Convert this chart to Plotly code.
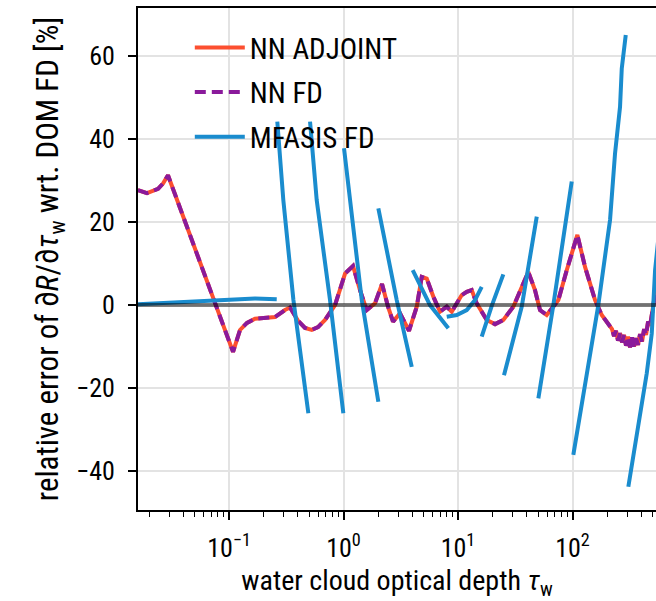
import plotly.graph_objects as go

# ---------------- data ----------------
nn_tau = [0.0160, 0.0192, 0.0240, 0.0265, 0.0293, 0.0456, 0.0725, 0.1084, 0.1248, 0.1435,
          0.1686, 0.206, 0.252, 0.308, 0.341, 0.401, 0.461, 0.528, 0.599, 0.689,
          0.843, 1.031, 1.210, 1.393, 1.594, 1.883, 2.169, 2.447, 2.705, 3.113,
          3.73, 4.36, 4.82, 5.33, 6.09, 6.96, 7.97, 8.81, 10.77, 11.91,
          13.17, 14.56, 17.81, 21.05, 24.87, 30.42, 35.99, 41.1, 47.0, 52.0,
          59.5, 75.2, 89.0, 110.2, 128.6, 157.3, 179.9, 212.6,
          221.3, 230.3, 239.9, 249.6, 260.0, 270.5, 281.8, 293.2, 305.6, 317.8,
          331.1, 344.6, 358.9, 373.3, 388.8, 404.7, 421.7, 438.5, 457.1, 475.3,
          494.6, 515.2, 535.9, 580.0]
nn_adjoint_err = [27.7, 27.0, 28.0, 29.3, 31.3, 16.9, 1.8, -11.3, -6.0, -4.3,
                  -3.3, -3.2, -2.9, -1.2, -0.6, -3.8, -5.5, -6.0, -5.3, -3.6,
                  0.0, 7.6, 9.4, 3.6, -1.2, 0.4, 5.1, -0.4, -4.0, -2.0,
                  -6.2, -0.4, 6.8, 6.4, 2.0, -1.6, -0.4, -1.6, 2.4, 3.2,
                  3.6, 0.4, -3.6, -4.6, -3.6, -0.4, 4.4, 8.0, 3.6, -1.2,
                  -2.4, 1.2, 8.4, 16.9, 9.2, 1.2, -2.4, -5.2,
                  -5.8, -7.5, -6.2, -8.6, -6.8, -9.0, -7.2, -9.8, -7.6, -10.2,
                  -7.8, -10.0, -8.0, -9.6, -7.0, -8.8, -5.8, -7.2, -4.0, -5.0,
                  -1.5, 1.0, 4.0, 9.0]
nn_fd_err = list(nn_adjoint_err)

mfasis_tau = [0.0160, 0.0293, 0.0558, 0.1084, 0.1686, 0.261, None,
              0.264, 0.298, 0.365, 0.493, None,
              0.510, 0.583, 0.762, 0.996, None,
              1.010, 1.140, 1.443, 2.014, None,
              2.014, 2.915, 3.944, None,
              4.02, 5.69, 8.23, None,
              7.97, 9.75, 11.91, 14.07, 16.1, None,
              16.1, 19.8, 24.87, None,
              25.2, 35.99, 48.7, None,
              50.3, 68.0, 98.4, None,
              101.6, 128.6, 168.0, 212.6, 235.0, 260.0, 269.1, 291.6, None,
              307.2, 388.8, 444.6, 491.9, 526.1, 581.0]
mfasis_err = [0.2, 0.5, 0.9, 1.3, 1.6, 1.4, None,
              44.2, 25.3, 1.2, -26.1, None,
              44.2, 25.3, 1.2, -26.1, None,
              37.8, 25.3, 1.2, -23.3, None,
              23.3, 1.2, -14.9, None,
              8.4, 0.0, -5.6, None,
              -2.8, -2.4, -1.2, 1.2, 4.4, None,
              -7.6, 0.0, 7.4, None,
              -16.9, -0.4, 21.3, None,
              -22.5, 0.0, 29.8, None,
              -36.1, -19.7, 0.0, 20.5, 36.5, 47.8, 57.0, 65.1, None,
              -43.8, -26.9, -16.5, -6.9, 8.4, 20.0]

x_tick_vals = [0.1, 1, 10, 100]
x_tick_text = ["10<sup>\u22121</sup>", "10<sup>0</sup>", "10<sup>1</sup>", "10<sup>2</sup>"]
x_minor_vals = [m * d for d in (0.01, 0.1, 1, 10, 100) for m in range(2, 10)]
y_tick_vals = [-40, -20, 0, 20, 40, 60]
y_tick_text = ["\u221240", "\u221220", "0", "20", "40", "60"]

RED = "#fc4f30"
PURPLE = "#8a1a9b"
BLUE = "#1a8cce"
FONT = "Roboto Condensed, Liberation Sans Narrow, DejaVu Sans Condensed, Roboto, sans-serif"
X_RANGE = [-1.795, 2.729]

fig = go.Figure()
fig.add_trace(go.Scatter(x=nn_tau, y=nn_adjoint_err, mode="lines", name="NN ADJOINT",
                         line=dict(color=RED, width=4), legendgroup="a"))
fig.add_trace(go.Scatter(x=nn_tau, y=nn_fd_err, mode="lines", name="NN FD",
                         line=dict(color=PURPLE, width=4, dash="11px,6px"), legendgroup="b"))
fig.add_trace(go.Scatter(x=mfasis_tau, y=mfasis_err, mode="lines", name="MFASIS FD",
                         line=dict(color=BLUE, width=4), connectgaps=False, legendgroup="c"))

fig.add_hline(y=0, line=dict(color="rgba(0,0,0,0.5)", width=4), layer="above")

fig.update_layout(
    width=656, height=601,
    margin=dict(l=138, r=0, t=8, b=91),
    paper_bgcolor="white", plot_bgcolor="white",
    font=dict(family=FONT, size=26, color="black"),
    showlegend=True,
    legend=dict(x=0.10, y=0.972, xanchor="left", yanchor="top",
                bgcolor="rgba(0,0,0,0)", font=dict(size=29, family=FONT),
                itemwidth=50, tracegroupgap=4, traceorder="grouped"),
    xaxis=dict(type="log", range=X_RANGE,
               tickvals=x_tick_vals, ticktext=x_tick_text,
               ticks="outside", ticklen=8, tickwidth=1.5, tickcolor="black",
               showline=True, linecolor="black", linewidth=2, mirror=True,
               showgrid=True, gridcolor="#e3e3e3", gridwidth=2,
               zeroline=False, ticklabelstandoff=6,
               minor=dict(tickvals=x_minor_vals, ticks="outside", ticklen=5, tickwidth=1.2,
                          tickcolor="black", showgrid=False),
               title=dict(text="water cloud optical depth <i>\u03c4</i><sub>w</sub>", standoff=12,
                          font=dict(size=28))),
    yaxis=dict(range=[-49.4, 71.6], tickvals=y_tick_vals, ticktext=y_tick_text,
               ticks="outside", ticklen=8, tickwidth=1.5, tickcolor="black",
               showline=True, linecolor="black", linewidth=2, mirror=False,
               showgrid=True, gridcolor="#e3e3e3", gridwidth=2,
               zeroline=False, ticklabelstandoff=8,
               title=dict(text="relative error of \u2202<i>R</i>/\u2202<i>\u03c4</i><sub>w</sub> wrt. DOM FD [%]",
                          standoff=8, font=dict(size=31))),
)

fig.write_html("out.html")
